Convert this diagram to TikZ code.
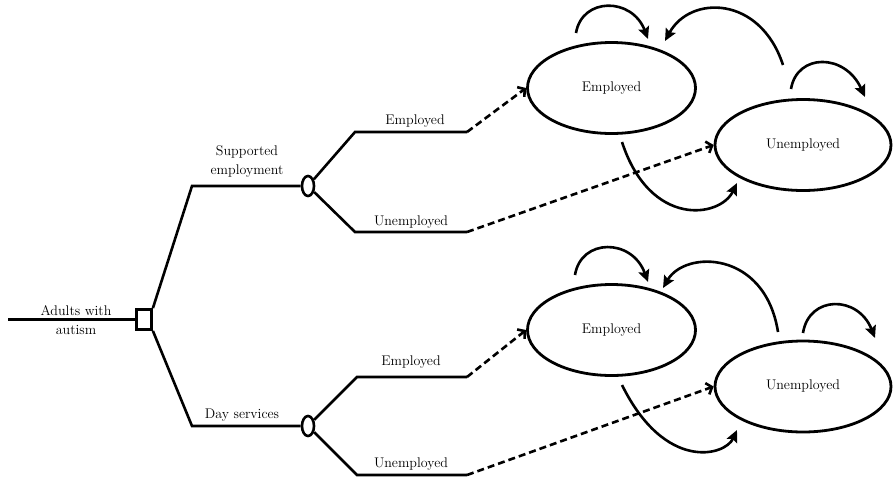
\documentclass[tikz,border=0pt]{standalone}
\usetikzlibrary{shapes.geometric,arrows.meta}
\begin{document}
\begin{tikzpicture}[x=1pt,y=-1pt,
  tree/.style={line width=2.6pt, line join=miter},
  lbl/.style={font=\fontsize{14}{19}\selectfont, inner sep=0pt, align=center},
  stateE/.style={ellipse, draw, line width=2.8pt, minimum width=168pt, minimum height=91pt, inner sep=0pt, font=\fontsize{14}{17}\selectfont},
  stateU/.style={stateE, minimum width=176pt},
  chance/.style={ellipse, draw, line width=2.6pt, minimum width=12pt, minimum height=20pt, inner sep=0pt},
  decision/.style={rectangle, draw, line width=2.8pt, minimum width=15pt, minimum height=20pt, inner sep=0pt},
  dasharr/.style={line width=2.6pt, dash pattern=on 7pt off 4pt, -{Straight Barb[length=5pt,width=12pt]}},
  trans/.style={line width=2.6pt, -{Stealth[length=12pt,width=11pt,inset=2pt]}}
]
\useasboundingbox (0,0) rectangle (894,480);

% decision tree
\coordinate (start) at (8,319.5);
\node[decision] (sq) at (144,319.5) {};
\node[chance] (c1) at (308,186) {};
\node[chance] (c2) at (308,426) {};
\coordinate (b1) at (192,186);
\coordinate (b2) at (192,426);
\coordinate (b11) at (355,132);
\coordinate (e11) at (467,132);
\coordinate (b12) at (355,232);
\coordinate (e12) at (467,232);
\coordinate (b21) at (357,377);
\coordinate (e21) at (467,377);
\coordinate (b22) at (357,475);
\coordinate (e22) at (467,475);

\draw[tree] (start) -- (sq);
\draw[tree] (sq.north east) -- (b1) -- (c1);
\draw[tree] (sq.south east) -- (b2) -- (c2);
\draw[tree] (c1) -- (b11) -- (e11);
\draw[tree] (c1) -- (b12) -- (e12);
\draw[tree] (c2) -- (b21) -- (e21);
\draw[tree] (c2) -- (b22) -- (e22);

\node[lbl] (lA) at (76,320) {Adults with\\autism};
\node[lbl] (lS) at (247,161) {Supported\\employment};
\node[lbl] (lD) at (242,415) {Day services};
\node[lbl] (l11) at (415,121) {Employed};
\node[lbl] (l12) at (411,222) {Unemployed};
\node[lbl] (l21) at (411,362) {Employed};
\node[lbl] (l22) at (411,464) {Unemployed};

% Markov states
\node[stateE] (E1) at (611.5,88) {Employed};
\node[stateU] (U1) at (803,145) {Unemployed};
\node[stateE] (E2) at (611.5,330) {Employed};
\node[stateU] (U2) at (803,386.5) {Unemployed};

\draw[dasharr] (e11) -- (E1.west);
\draw[dasharr] (e12) -- (U1.west);
\draw[dasharr] (e21) -- (E2.west);
\draw[dasharr] (e22) -- (U2.west);

% upper transitions
\coordinate (s1a) at (576,33);  \coordinate (t1a) at (648,39);
\coordinate (s1b) at (783,65);  \coordinate (t1b) at (665,41);
\coordinate (s1c) at (791,89);  \coordinate (t1c) at (865,97);
\coordinate (s1d) at (622,142); \coordinate (t1d) at (737,183);
\draw[trans] (s1a) .. controls (582,-3) and (632,-3) .. (t1a);
\draw[trans] (s1b) .. controls (760,-5) and (690,-5) .. (t1b);
\draw[trans] (s1c) .. controls (797,53) and (845,53) .. (t1c);
\draw[trans] (s1d) .. controls (650,228) and (720,218) .. (t1d);

% lower transitions
\coordinate (s2a) at (575,275); \coordinate (t2a) at (648,282);
\coordinate (s2b) at (778,332); \coordinate (t2b) at (663,288);
\coordinate (s2c) at (803,333); \coordinate (t2c) at (875,338);
\coordinate (s2d) at (622,385); \coordinate (t2d) at (737,430);
\draw[trans] (s2a) .. controls (581,238) and (632,238) .. (t2a);
\draw[trans] (s2b) .. controls (765,250) and (685,250) .. (t2b);
\draw[trans] (s2c) .. controls (809,295) and (858,295) .. (t2c);
\draw[trans] (s2d) .. controls (665,472) and (725,456) .. (t2d);
\end{tikzpicture}
\end{document}
